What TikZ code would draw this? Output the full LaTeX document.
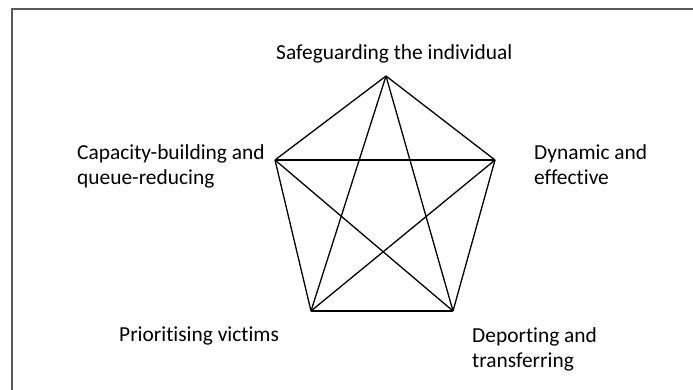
\documentclass[tikz,border=0pt]{standalone}
\usepackage{fontspec}
\setmainfont{Carlito}[Ligatures=NoCommon]
\usetikzlibrary{positioning}
\tikzstyle{goal} = [
    inner sep=0pt,
    align=left,
    font=\fontsize{21.4}{25}\selectfont
]
\tikzstyle{edge} = [
    line width=1.3pt,
    draw=black
]

\begin{document}
\begin{tikzpicture}[x=1pt, y=-1pt]
        \useasboundingbox (0,0) rectangle (693,389);
        \draw[black!65, line width=1.2pt] (12,392) -- (12,9) -- (696,9);

        \coordinate (safe) at (386,76);
        \coordinate (capa) at (275,160);
        \coordinate (dyn) at (495,160);
        \coordinate (prio) at (311,311);
        \coordinate (depo) at (453,311);

        \node (safetext) [goal, anchor=base west] at (276,59) {Safeguarding the individual};
        \node (capatext) [goal, anchor=north west] at (77,144) {Capacity-building and\\queue-reducing};
        \node (dyntext) [goal, anchor=north west] at (534,144) {Dynamic and\\effective};
        \node (priotext) [goal, anchor=base west] at (119,341) {Prioritising victims};
        \node (depotext) [goal, anchor=north west] at (472,327) {Deporting and\\transferring};

        \foreach \a/\b in {safe/capa, safe/dyn, safe/prio, safe/depo, capa/dyn,
                           capa/prio, capa/depo, dyn/prio, dyn/depo, prio/depo}
            \draw[edge] (\a) -- (\b);
    \end{tikzpicture}
\end{document}
